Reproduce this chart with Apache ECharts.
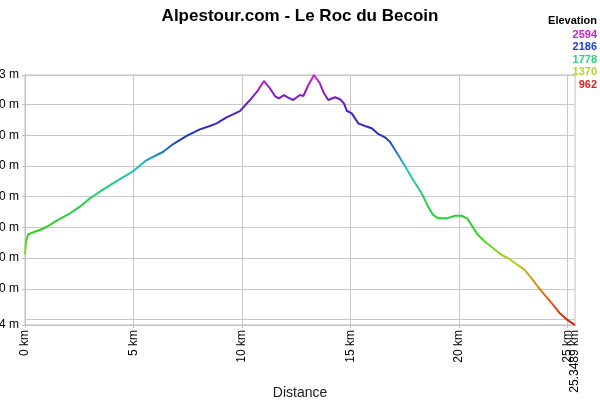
<!DOCTYPE html>
<html>
<head>
<meta charset="utf-8">
<script src="https://cdn.jsdelivr.net/npm/echarts@6/dist/echarts.min.js"></script>
<style>
  html, body { margin: 0; padding: 0; background: #fff; }
  #chart { width: 600px; height: 400px; }
</style>
</head>
<body>
<div id="chart"></div>
<script>
// profile: distance (km) / elevation (m)
var distKm = [0, 0.03, 0.06, 0.15, 0.38, 0.77, 1.07, 1.46, 2.07, 2.53, 3.0, 3.61, 4.22, 4.99,
  5.61, 6.37, 6.83, 7.45, 8.06, 8.52, 8.83, 9.29, 9.9, 10.37, 10.75, 11.01, 11.29, 11.52,
  11.7, 11.94, 12.13, 12.36, 12.67, 12.83, 13.06, 13.32, 13.59, 13.78, 13.98, 14.29, 14.52,
  14.7, 14.83, 15.06, 15.36, 15.67, 15.98, 16.28, 16.59, 16.82, 17.2, 17.51, 17.89, 18.28,
  18.58, 18.81, 19.05, 19.43, 19.82, 20.12, 20.38, 20.58, 20.84, 21.2, 21.58, 21.97, 22.27,
  22.66, 23.04, 23.35, 23.66, 23.96, 24.35, 24.65, 24.96, 25.3489];
var elevM = [1425, 1480, 1518, 1555, 1568, 1588, 1609, 1644, 1692, 1735, 1790, 1848, 1902, 1967,
  2039, 2093, 2143, 2196, 2239, 2261, 2278, 2317, 2358, 2430, 2495, 2554, 2506, 2456,
  2441, 2462, 2445, 2430, 2463, 2456, 2528, 2593, 2539, 2474, 2430, 2448, 2435,
  2408, 2360, 2343, 2278, 2261, 2246, 2209, 2187, 2158, 2072, 2000, 1909, 1822,
  1735, 1681, 1659, 1659, 1676, 1676, 1659, 1616, 1557, 1507, 1464, 1420, 1399,
  1361, 1322, 1268, 1210, 1159, 1094, 1040, 1001, 964];

var yTicks = [964, 1000, 1200, 1400, 1600, 1800, 2000, 2200, 2400, 2593];
var xTicks = [0, 5, 10, 15, 20, 25];
var xEnd = [25.3489];
var legendValues = [2594, 2186, 1778, 1370, 962];
var legendColors = ['#d020d0', '#2040d0', '#30d080', '#b0d030', '#e02020'];
var rampColors = ['#d81414', '#e07010', '#b8d020', '#30d020', '#20d050', '#20c8c0',
  '#1838c4', '#6018c8', '#d020d8'];

var profile = distKm.map(function (d, i) { return [d, elevM[i]]; });

var chart = echarts.init(document.getElementById('chart'));

var legendText = [{
  type: 'text', right: 3, top: 15,
  style: { text: 'Elevation', font: 'bold 11px "Liberation Sans", Arial', fill: '#000' }
}];
legendValues.forEach(function (v, i) {
  legendText.push({
    type: 'text', right: 3, top: 29 + i * 12.5,
    style: { text: String(v), font: 'bold 11px "Liberation Sans", Arial', fill: legendColors[i] }
  });
});

function kmLabel(v) { return v + ' km'; }

chart.setOption({
  animation: false,
  backgroundColor: '#fff',
  textStyle: { fontFamily: '"Liberation Sans", Arial' },
  title: {
    text: 'Alpestour.com - Le Roc du Becoin',
    left: 'center',
    top: 3,
    textStyle: { fontSize: 17, fontWeight: 'bold', color: '#000' }
  },
  graphic: legendText,
  grid: {
    left: 25, right: 25, top: 75, bottom: 75,
    outerBoundsMode: 'none',
    containLabel: false,
    show: true, borderColor: '#c0c0c0', borderWidth: 1
  },
  xAxis: [{
    type: 'value',
    min: 0,
    max: 25.3489,
    name: 'Distance',
    nameLocation: 'middle',
    nameGap: 61,
    nameTextStyle: { fontSize: 14, color: '#202020' },
    axisLine: { lineStyle: { color: '#c0c0c0' } },
    axisTick: { show: true, length: 3, customValues: xTicks, lineStyle: { color: '#c0c0c0' } },
    axisLabel: {
      customValues: xTicks,
      rotate: 90,
      fontSize: 12,
      color: '#000',
      margin: 5,
      formatter: kmLabel
    },
    splitLine: { show: true, lineStyle: { color: '#c8c8c8' } }
  }, {
    // separate axis so the end-distance label is not hidden by the 25 km one
    type: 'value',
    position: 'bottom',
    min: 0,
    max: 25.3489,
    axisLine: { show: false },
    axisTick: { show: false },
    splitLine: { show: false },
    axisLabel: {
      customValues: xEnd,
      rotate: 90,
      fontSize: 12,
      color: '#000',
      margin: 5,
      padding: [4, 0, 0, 0],
      showMaxLabel: true,
      formatter: kmLabel
    }
  }],
  yAxis: {
    type: 'value',
    min: 964,
    max: 2593,
    axisLine: { show: true, lineStyle: { color: '#c0c0c0' } },
    axisTick: { show: true, length: 3, customValues: yTicks, lineStyle: { color: '#c0c0c0' } },
    axisLabel: {
      customValues: yTicks,
      fontSize: 12,
      color: '#000',
      margin: 6,
      showMinLabel: true,
      showMaxLabel: true,
      formatter: function (v) { return v + ' m'; }
    },
    splitLine: { show: true, lineStyle: { color: '#c8c8c8' } }
  },
  visualMap: {
    type: 'continuous',
    show: false,
    dimension: 1,
    seriesIndex: 0,
    min: 962,
    max: 2594,
    inRange: { color: rampColors }
  },
  series: [{
    type: 'line',
    xAxisIndex: 0,
    data: profile,
    showSymbol: false,
    lineStyle: { width: 2 },
    smooth: false
  }]
});
</script>
</body>
</html>
